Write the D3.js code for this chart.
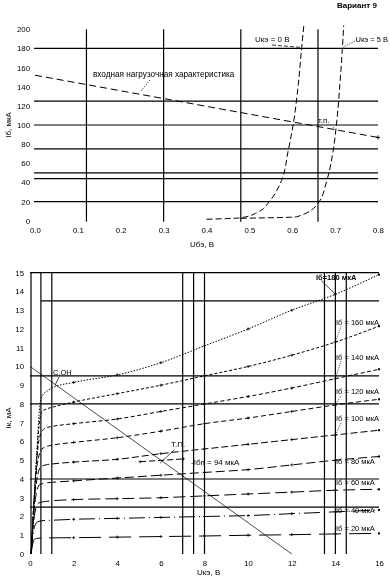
<!DOCTYPE html>
<html><head><meta charset="utf-8">
<script src="https://cdn.jsdelivr.net/npm/d3@7"></script>
<style>
body{margin:0;background:#fff}
svg{display:block;will-change:transform}
text{font-family:"Liberation Sans",Arial,sans-serif;fill:#000}
</style>
</head><body>
<svg id="c" width="390" height="582"></svg>
<script>
// ---------- DATA ----------
const topXTicks = [0, 0.1, 0.2, 0.3, 0.4, 0.5, 0.6, 0.7, 0.8];
const topYTicks = [0, 20, 40, 60, 80, 100, 120, 140, 160, 180, 200];
const topGridY = [180, 125, 100, 75, 50, 44, 20];
const topGridX = [0.12, 0.3, 0.48, 0.66];
const inputLoadLine = [[0, 152], [0.8, 87]];
const inputUce0 = [[0.40,1.5],[0.48,3],[0.52,9],[0.548,21],[0.575,42],[0.59,72],[0.602,100],[0.614,142],[0.622,181],[0.627,204]];
const inputUce5 = [[0.48,2.5],[0.61,4],[0.66,18],[0.68,41],[0.695,72],[0.703,100],[0.711,142],[0.717,181],[0.72,204]];
const inputOpPoint = [0.70, 95];

const botXTicks = [0, 2, 4, 6, 8, 10, 12, 14, 16];
const botYTicks = [0,1,2,3,4,5,6,7,8,9,10,11,12,13,14,15];
const botGridY = [15, 13.5, 9.5, 8, 4, 2.5];
const botGridX = [0, 0.5, 1, 7, 7.5, 8, 13.5, 14, 14.5];
const baseCurrents = [20, 40, 60, 80, 100, 120, 140, 160, 180];
const outIb20  = [[0.05,0],[0.1,0.4],[0.18,0.75],[0.3,0.83],[0.5,0.85],[1,0.86],[2,0.87],[4,0.9],[6,0.93],[8,0.96],[10,1.0],[12,1.03],[14,1.07],[16,1.1]];
const outIb40  = [[0.05,0],[0.12,0.8],[0.22,1.5],[0.35,1.72],[0.6,1.78],[1,1.8],[2,1.85],[4,1.9],[6,1.95],[8,2.0],[10,2.05],[12,2.15],[14,2.25],[16,2.35]];
const outIb60  = [[0.05,0],[0.15,1.5],[0.26,2.4],[0.4,2.72],[0.7,2.8],[1,2.84],[2,2.9],[4,2.95],[6,3.0],[8,3.1],[10,3.2],[12,3.3],[14,3.4],[16,3.45]];
const outIb80  = [[0.05,0],[0.18,2.2],[0.3,3.3],[0.45,3.7],[0.8,3.8],[1,3.82],[2,3.9],[4,4.05],[6,4.2],[8,4.35],[10,4.5],[12,4.75],[14,5.0],[16,5.2]];
const outIb100 = [[0.05,0],[0.2,2.8],[0.35,4.2],[0.5,4.65],[0.8,4.77],[1,4.8],[2,4.9],[4,5.05],[6,5.35],[8,5.6],[10,5.85],[12,6.1],[14,6.35],[16,6.6]];
const outIb120 = [[0.05,0],[0.22,3.4],[0.38,5.1],[0.55,5.6],[0.8,5.75],[1,5.8],[2,5.95],[4,6.2],[6,6.55],[8,6.95],[10,7.25],[12,7.6],[14,7.95],[16,8.25]];
const outIb140 = [[0.05,0],[0.25,4],[0.4,6],[0.58,6.6],[0.8,6.75],[1,6.8],[2,6.95],[4,7.2],[6,7.6],[8,8.0],[10,8.4],[12,8.85],[14,9.35],[16,9.85]];
const outIb160 = [[0.05,0],[0.28,4.6],[0.42,6.9],[0.55,7.6],[0.8,7.75],[1,7.82],[2,8.1],[4,8.55],[6,9.0],[8,9.5],[10,10.0],[12,10.6],[14,11.3],[16,12.15]];
const outIb180 = [[0.05,0],[0.3,5.2],[0.45,7.9],[0.55,8.4],[0.8,8.7],[1,8.85],[2,9.15],[4,9.55],[6,10.2],[8,11.1],[10,12.0],[12,13.0],[14,13.85],[16,14.9]];
const outIb94  = [[5.05,4.92],[6.1,5.0],[7.03,5.07]];
const outputLoadLine = [[0, 10], [12, 0]];
const outputOpPoint = [6.1, 5.0];
const outputSatPoint = [1.15, 9.0];

// ---------- DRAW ----------
const svg = d3.select("#c");
const xT = d3.scaleLinear().domain([0, 0.8]).range([35, 378]);
const yT = d3.scaleLinear().domain([0, 200]).range([220.7, 29.3]);
const xB = d3.scaleLinear().domain([0, 16]).range([30, 379]);
const yB = d3.scaleLinear().domain([0, 15]).range([554, 272.7]);

const FS = "7.8px";
const LF = "8px";

svg.append("text").attr("x", 337).attr("y", 8).attr("font-size", "8px").attr("font-weight", "bold").text("Вариант 9");

// ----- Top chart -----
const gT = svg.append("g");
gT.selectAll(".hy").data(topGridY).join("line")
  .attr("x1", xT(0) - 1).attr("x2", xT(0.8)).attr("y1", d => yT(d)).attr("y2", d => yT(d))
  .attr("stroke", "#000").attr("stroke-width", 1.2);
gT.selectAll(".vx").data(topGridX).join("line")
  .attr("x1", d => xT(d)).attr("x2", d => xT(d)).attr("y1", yT(200)).attr("y2", yT(-1))
  .attr("stroke", "#000").attr("stroke-width", 1.2);

const axYT = d3.axisLeft(yT).tickValues(topYTicks).tickSize(0).tickPadding(5).tickFormat(d3.format("d"));
gT.append("g").attr("transform", `translate(${xT(0)},0)`).call(axYT)
  .call(g => g.select(".domain").remove())
  .selectAll("text").attr("font-size", FS).attr("font-family", "Liberation Sans, Arial");
const axXT = d3.axisBottom(xT).tickValues(topXTicks).tickSize(0).tickPadding(7).tickFormat(d3.format(".1f"));
gT.append("g").attr("transform", `translate(0,${yT(0)})`).call(axXT)
  .call(g => g.select(".domain").remove())
  .selectAll("text").attr("font-size", FS).attr("font-family", "Liberation Sans, Arial");

const lT = d3.line().x(d => xT(d[0])).y(d => yT(d[1]));
const lTc = d3.line().x(d => xT(d[0])).y(d => yT(d[1])).curve(d3.curveMonotoneY);
gT.append("path").datum(inputLoadLine).attr("d", lT).attr("fill", "none").attr("stroke", "#000").attr("stroke-width", 1).attr("stroke-dasharray", "7,4");
gT.append("path").datum(inputUce0).attr("d", lTc).attr("fill", "none").attr("stroke", "#000").attr("stroke-width", 1).attr("stroke-dasharray", "6,3");
gT.append("path").datum(inputUce5).attr("d", lTc).attr("fill", "none").attr("stroke", "#000").attr("stroke-width", 1).attr("stroke-dasharray", "6,3");
const le = inputLoadLine[1];
gT.append("path").attr("d", `M${xT(le[0])-2},${yT(le[1])}h4M${xT(le[0])},${yT(le[1])-2}v4`).attr("stroke", "#000");

gT.append("text").attr("x", 93).attr("y", 77).attr("font-size", "8.2px").text("входная нагрузочная характеристика");
gT.append("line").attr("x1", 150).attr("y1", 80).attr("x2", 141).attr("y2", 91).attr("stroke", "#000").attr("stroke-width", 0.7).attr("stroke-dasharray", "1.5,1");
gT.append("text").attr("x", 255).attr("y", 42).attr("font-size", LF).text("Uкэ = 0 В");
gT.append("line").attr("x1", 272).attr("y1", 45).attr("x2", xT(0.622)).attr("y2", yT(181)).attr("stroke", "#000").attr("stroke-width", 0.8).attr("stroke-dasharray", "4,2");
gT.append("text").attr("x", 388).attr("y", 42).attr("text-anchor", "end").attr("font-size", "7.5px").text("Uкэ = 5 В");
gT.append("line").attr("x1", 355).attr("y1", 41).attr("x2", xT(0.717)).attr("y2", yT(181)).attr("stroke", "#000").attr("stroke-width", 0.7).attr("stroke-dasharray", "1,1");
gT.append("text").attr("x", 318).attr("y", 123).attr("font-size", LF).text("т.п.");
gT.append("line").attr("x1", 333).attr("y1", 127).attr("x2", xT(inputOpPoint[0])).attr("y2", yT(inputOpPoint[1])).attr("stroke", "#000").attr("stroke-width", 0.7).attr("stroke-dasharray", "1,1");

gT.append("text").attr("transform", "translate(11,125) rotate(-90)").attr("text-anchor", "middle").attr("font-size", LF).text("Iб, мкА");
gT.append("text").attr("x", 190).attr("y", 247).attr("font-size", LF).text("Uбэ, В");

// ----- Bottom chart -----
const gB = svg.append("g");
gB.selectAll(".hy").data(botGridY).join("line")
  .attr("x1", d => d === 13.5 ? xB(0.5) : xB(0)).attr("x2", xB(16))
  .attr("y1", d => yB(d)).attr("y2", d => yB(d))
  .attr("stroke", "#000").attr("stroke-width", 1.2);
gB.selectAll(".vx").data(botGridX).join("line")
  .attr("x1", d => xB(d) + (d === 0 ? 1 : 0)).attr("x2", d => xB(d) + (d === 0 ? 1 : 0))
  .attr("y1", yB(15)).attr("y2", yB(0))
  .attr("stroke", "#000").attr("stroke-width", 1.2);

const axYB = d3.axisLeft(yB).tickValues(botYTicks).tickSize(0).tickPadding(6).tickFormat(d3.format("d"));
gB.append("g").attr("transform", `translate(${xB(0)},0)`).call(axYB)
  .call(g => g.select(".domain").remove())
  .selectAll("text").attr("font-size", FS).attr("font-family", "Liberation Sans, Arial");
const axXB = d3.axisBottom(xB).tickValues(botXTicks).tickSize(0).tickPadding(6).tickFormat(d3.format("d"));
gB.append("g").attr("transform", `translate(0,${yB(0)})`).call(axXB)
  .call(g => g.select(".domain").remove())
  .selectAll("text").attr("font-size", FS).attr("font-family", "Liberation Sans, Arial");

const lB = d3.line().x(d => xB(d[0])).y(d => yB(d[1])).curve(d3.curveMonotoneX);
const outCurves = [outIb20, outIb40, outIb60, outIb80, outIb100, outIb120, outIb140, outIb160, outIb180];
const dashes = ["22,8", "16,4,1,4", "12,5", "9,4", "7,3", "5,3", "4,2.5", "3,2", "1.5,1.5"];
outCurves.forEach((c, i) => {
  gB.append("path").datum(c).attr("d", lB).attr("fill", "none").attr("stroke", "#000")
    .attr("stroke-width", 1).attr("stroke-dasharray", dashes[i]);
  gB.selectAll(null).data(c.filter(p => p[0] >= 2 && p[0] <= 14 && p[0] % 2 === 0)).join("path")
    .attr("d", p => `M${xB(p[0])-1.5},${yB(p[1])}h3M${xB(p[0])},${yB(p[1])-1.5}v3`)
    .attr("stroke", "#000").attr("stroke-width", 0.8);
  const last = c[c.length - 1];
  gB.append("rect").attr("x", xB(last[0]) - 1).attr("y", yB(last[1]) - 1).attr("width", 2).attr("height", 2).attr("fill", "#000");
});
gB.append("path").datum(outIb94).attr("d", lB).attr("fill", "none").attr("stroke", "#000").attr("stroke-width", 1).attr("stroke-dasharray", "6,3");
gB.selectAll(null).data([outIb94[0], outIb94[2]]).join("path")
  .attr("d", p => `M${xB(p[0])-1.5},${yB(p[1])}h3M${xB(p[0])},${yB(p[1])-1.5}v3`).attr("stroke", "#000").attr("stroke-width", 0.8);

const lL = d3.line().x(d => xB(d[0])).y(d => yB(d[1]));
gB.append("path").datum(outputLoadLine).attr("d", lL).attr("fill", "none").attr("stroke", "#000").attr("stroke-width", 0.7);

const labelY = {180: 14.75, 160: 12.35, 140: 10.5, 120: 8.65, 100: 7.2, 80: 4.95, 60: 3.8, 40: 2.3, 20: 1.35};
const leaderTo = {160: 11.3, 140: 9.35, 120: 7.95, 100: 6.35};
baseCurrents.forEach(ib => {
  if (ib === 180) {
    gB.append("text").attr("x", 316).attr("y", yB(labelY[ib]) + 2.5).attr("font-size", "7.5px").attr("font-weight", "bold").text("Iб=180 мкА");
    gB.append("line").attr("x1", 321).attr("y1", yB(labelY[ib]) + 3).attr("x2", xB(14)).attr("y2", yB(13.85)).attr("stroke", "#000").attr("stroke-width", 0.7);
  } else {
    gB.append("text").attr("x", 336).attr("y", yB(labelY[ib]) + 2.5).attr("font-size", "7.5px").text(`Iб = ${ib} мкА`);
    if (leaderTo[ib] !== undefined) {
      gB.append("line").attr("x1", 341).attr("y1", yB(labelY[ib]) + 4).attr("x2", xB(14)).attr("y2", yB(leaderTo[ib]))
        .attr("stroke", "#000").attr("stroke-width", 0.7).attr("stroke-dasharray", "1,1");
    }
  }
});

gB.append("text").attr("x", 171).attr("y", 447).attr("font-size", LF).text("Т.П.");
gB.append("line").attr("x1", 174).attr("y1", 450).attr("x2", xB(outputOpPoint[0]) - 3).attr("y2", yB(outputOpPoint[1]) + 3).attr("stroke", "#000").attr("stroke-width", 0.7);
gB.append("text").attr("x", 191).attr("y", 465).attr("font-size", LF).text("-Iбп = 94 мкА");
gB.append("text").attr("x", 53).attr("y", 375).attr("font-size", "7.5px").text("С.ОН");
gB.append("line").attr("x1", 59).attr("y1", 377).attr("x2", xB(outputSatPoint[0])).attr("y2", yB(outputSatPoint[1])).attr("stroke", "#000").attr("stroke-width", 0.7);

gB.append("text").attr("transform", "translate(11,418) rotate(-90)").attr("text-anchor", "middle").attr("font-size", LF).text("Iк, мА");
gB.append("text").attr("x", 197).attr("y", 575).attr("font-size", LF).text("Uкэ, В");
</script>
</body></html>
